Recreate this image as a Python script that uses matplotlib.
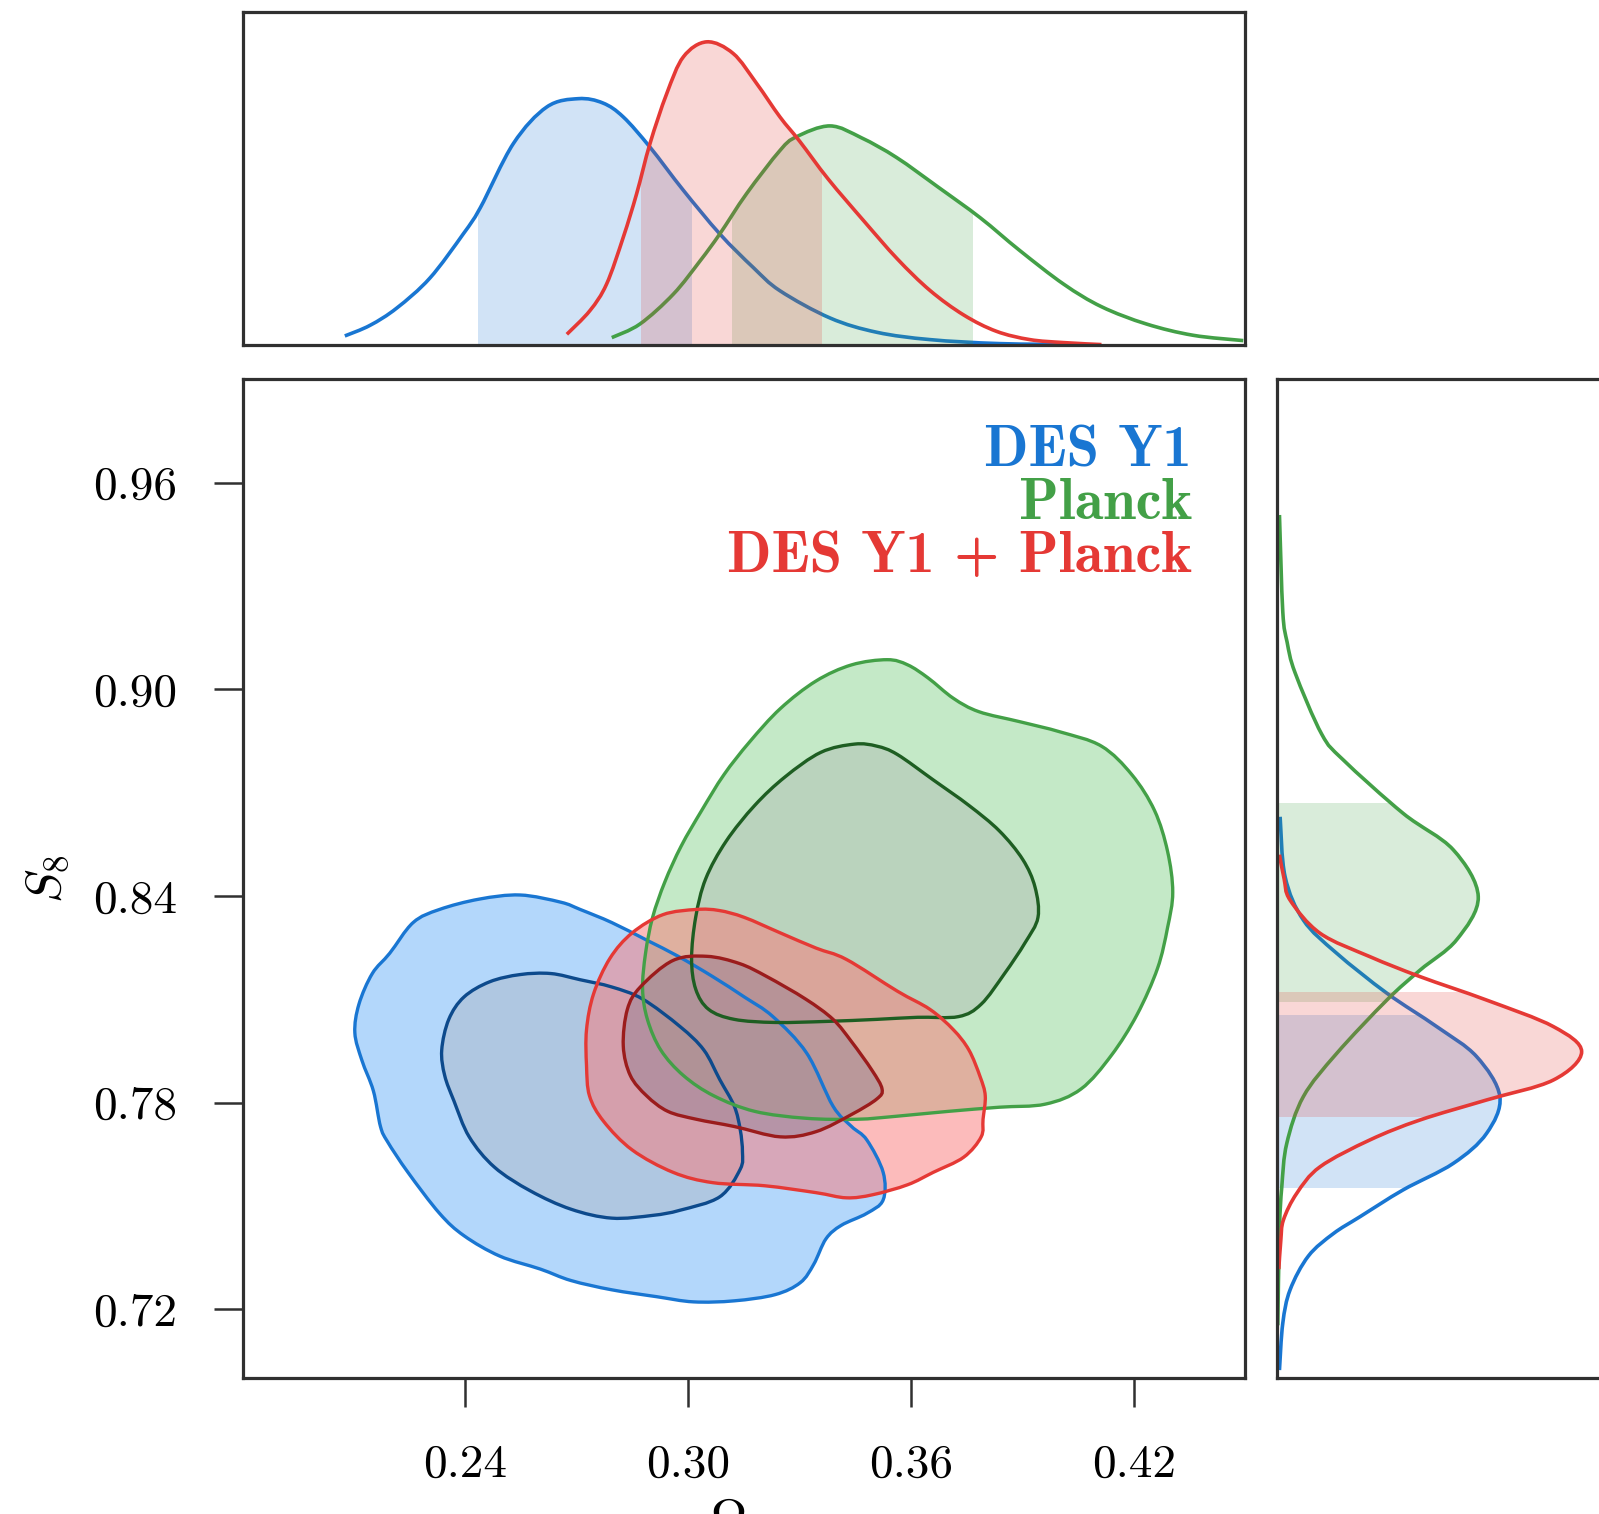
import numpy as np
import matplotlib
matplotlib.use("Agg")
import matplotlib.pyplot as plt
from matplotlib.path import Path
from matplotlib.patches import PathPatch

# ------------------------------------------------------------------ data
om_lim = (0.18, 0.45)
s8_lim = (0.70, 0.99)
x_ticks = [0.24, 0.30, 0.36, 0.42]
x_tick_labels = ["0.24", "0.30", "0.36", "0.42"]
y_ticks = [0.72, 0.78, 0.84, 0.90, 0.96]
y_tick_labels = ["0.72", "0.78", "0.84", "0.90", "0.96"]
series_names = ["DES Y1", "Planck", "DES Y1 + Planck"]

# 1D marginal of Omega_m (relative density)
des_om = [0.2075, 0.2143, 0.2215, 0.2304, 0.2394, 0.2440, 0.2529, 0.2619, 0.2704, 0.2770,
          0.2825, 0.2897, 0.2987, 0.3085, 0.3175, 0.3247, 0.3382, 0.3508, 0.3651, 0.3838,
          0.4058]
des_om_pdf = [0.026, 0.058, 0.110, 0.200, 0.333, 0.412, 0.605, 0.715, 0.740, 0.727,
              0.685, 0.594, 0.464, 0.333, 0.232, 0.162, 0.080, 0.037, 0.015, 0.003,
              0.0]
planck_om = [0.2794, 0.2870, 0.2960, 0.3032, 0.3085, 0.3157, 0.3247, 0.3291, 0.3382, 0.3467,
             0.3561, 0.3673, 0.3786, 0.3893, 0.4011, 0.4113, 0.4234, 0.4360, 0.4495]
planck_om_pdf = [0.021, 0.062, 0.152, 0.252, 0.333, 0.454, 0.584, 0.625, 0.658, 0.622,
                 0.563, 0.474, 0.382, 0.283, 0.182, 0.114, 0.062, 0.028, 0.012]
comb_om = [0.2673, 0.2735, 0.2780, 0.2825, 0.2861, 0.2897, 0.2942, 0.2987, 0.3050, 0.3121,
           0.3184, 0.3247, 0.3300, 0.3377, 0.3473, 0.3563, 0.3651, 0.3742, 0.3830, 0.3920,
           0.4011, 0.4113]
comb_om_pdf = [0.031, 0.102, 0.182, 0.323, 0.454, 0.605, 0.755, 0.866, 0.911, 0.876,
               0.786, 0.685, 0.612, 0.498, 0.372, 0.258, 0.163, 0.089, 0.040, 0.015,
               0.006, 0.0]
# 68% intervals of Omega_m
des_om_band = (0.2434, 0.3009)
planck_om_band = (0.3117, 0.3767)
comb_om_band = (0.2874, 0.3360)

# 1D marginal of S8 (relative density)
des_s8 = [0.8630, 0.8456, 0.8330, 0.8234, 0.8118, 0.8021, 0.7934, 0.7818, 0.7711, 0.7624,
          0.7547, 0.7469, 0.7420, 0.7355, 0.7257, 0.7160, 0.7024]
des_s8_pdf = [0.010, 0.025, 0.080, 0.180, 0.331, 0.481, 0.601, 0.671, 0.631, 0.531,
              0.380, 0.250, 0.170, 0.095, 0.040, 0.018, 0.008]
planck_s8 = [0.9506, 0.9225, 0.9137, 0.9048, 0.8870, 0.8795, 0.8640, 0.8534, 0.8398, 0.8273,
             0.8185, 0.8098, 0.7943, 0.7818, 0.7682, 0.7556, 0.7432, 0.7154]
planck_s8_pdf = [0.008, 0.018, 0.031, 0.055, 0.135, 0.200, 0.380, 0.531, 0.606, 0.541,
                 0.431, 0.331, 0.180, 0.080, 0.030, 0.015, 0.008, 0.003]
comb_s8 = [0.8520, 0.8450, 0.8388, 0.8292, 0.8224, 0.8166, 0.8098, 0.8021, 0.7948, 0.7866,
           0.7808, 0.7750, 0.7692, 0.7614, 0.7537, 0.7460, 0.7400, 0.7317]
comb_s8_pdf = [0.008, 0.022, 0.040, 0.130, 0.280, 0.431, 0.631, 0.832, 0.917, 0.832,
               0.631, 0.431, 0.280, 0.130, 0.060, 0.020, 0.012, 0.006]
# 68% intervals of S8
des_s8_band = (0.7552, 0.8055)
planck_s8_band = (0.8093, 0.8669)
comb_s8_band = (0.7760, 0.8122)

# 2D contours (Omega_m, S8): outer = 95%, inner = 68%
des_outer_om = [0.2102, 0.2113, 0.2149, 0.2196, 0.2259, 0.2330, 0.2437, 0.2547, 0.2657, 0.2709,
                0.2794, 0.2888, 0.2973, 0.3066, 0.3151, 0.3228, 0.3319, 0.3390, 0.3440, 0.3481,
                0.3525, 0.3525, 0.3481, 0.3412, 0.3371, 0.3338, 0.3302, 0.3234, 0.3124, 0.3014,
                0.2915, 0.2794, 0.2684, 0.2602, 0.2492, 0.2396, 0.2330, 0.2245, 0.2190, 0.2171,
                0.2152, 0.2121]
des_outer_s8 = [0.8003, 0.8086, 0.8175, 0.8234, 0.8323, 0.8361, 0.8391, 0.8403, 0.8382, 0.8361,
                0.8323, 0.8272, 0.8225, 0.8166, 0.8107, 0.8050, 0.7944, 0.7790, 0.7731, 0.7692,
                0.7598, 0.7518, 0.7479, 0.7444, 0.7405, 0.7331, 0.7278, 0.7243, 0.7225, 0.7222,
                0.7237, 0.7257, 0.7284, 0.7317, 0.7355, 0.7414, 0.7479, 0.7598, 0.7687, 0.7731,
                0.7834, 0.7923]
des_inner_om = [0.2336, 0.2355, 0.2396, 0.2465, 0.2547, 0.2630, 0.2709, 0.2794, 0.2877, 0.2978,
                0.3042, 0.3085, 0.3124, 0.3140, 0.3146, 0.3140, 0.3085, 0.2978, 0.2904, 0.2794,
                0.2684, 0.2575, 0.2478, 0.2410, 0.2369, 0.2344]
des_inner_s8 = [0.7953, 0.8042, 0.8107, 0.8151, 0.8172, 0.8175, 0.8157, 0.8136, 0.8101, 0.8021,
                0.7953, 0.7867, 0.7790, 0.7722, 0.7657, 0.7607, 0.7527, 0.7488, 0.7473, 0.7465,
                0.7491, 0.7544, 0.7613, 0.7701, 0.7805, 0.7879]
planck_outer_om = [0.3536, 0.3440, 0.3344, 0.3248, 0.3165, 0.3096, 0.3036, 0.2981, 0.2937, 0.2904,
                   0.2885, 0.2877, 0.2890, 0.2926, 0.2987, 0.3069, 0.3179, 0.3316, 0.3454, 0.3563,
                   0.3701, 0.3838, 0.3962, 0.4058, 0.4140, 0.4209, 0.4264, 0.4291, 0.4305, 0.4291,
                   0.4256, 0.4195, 0.4113, 0.4003, 0.3893, 0.3783, 0.3714, 0.3646, 0.3591]
planck_outer_s8 = [0.9086, 0.9071, 0.9024, 0.8944, 0.8847, 0.8752, 0.8648, 0.8545, 0.8441, 0.8338,
                   0.8234, 0.8130, 0.8042, 0.7953, 0.7879, 0.7820, 0.7775, 0.7755, 0.7752, 0.7761,
                   0.7775, 0.7787, 0.7796, 0.7840, 0.7938, 0.8056, 0.8190, 0.8308, 0.8411, 0.8530,
                   0.8648, 0.8752, 0.8835, 0.8876, 0.8906, 0.8935, 0.8974, 0.9033, 0.9071]
planck_inner_om = [0.3448, 0.3357, 0.3261, 0.3179, 0.3102, 0.3047, 0.3020, 0.3009, 0.3020, 0.3055,
                   0.3124, 0.3234, 0.3371, 0.3508, 0.3618, 0.3728, 0.3789, 0.3852, 0.3907, 0.3942,
                   0.3934, 0.3901, 0.3838, 0.3756, 0.3660, 0.3563, 0.3508]
planck_inner_s8 = [0.8841, 0.8817, 0.8746, 0.8663, 0.8559, 0.8450, 0.8338, 0.8219, 0.8130, 0.8071,
                   0.8042, 0.8033, 0.8036, 0.8042, 0.8048, 0.8050, 0.8086, 0.8175, 0.8264, 0.8338,
                   0.8426, 0.8506, 0.8589, 0.8663, 0.8737, 0.8811, 0.8835]
comb_outer_om = [0.3022, 0.2932, 0.2849, 0.2789, 0.2745, 0.2726, 0.2726, 0.2734, 0.2772, 0.2849,
                 0.2959, 0.3066, 0.3206, 0.3344, 0.3426, 0.3497, 0.3591, 0.3660, 0.3742, 0.3789,
                 0.3794, 0.3800, 0.3786, 0.3756, 0.3714, 0.3651, 0.3563, 0.3426, 0.3344, 0.3248,
                 0.3151, 0.3083]
comb_outer_s8 = [0.8361, 0.8346, 0.8293, 0.8219, 0.8116, 0.8012, 0.7908, 0.7820, 0.7746, 0.7663,
                 0.7598, 0.7568, 0.7559, 0.7539, 0.7524, 0.7533, 0.7562, 0.7598, 0.7642, 0.7701,
                 0.7752, 0.7820, 0.7876, 0.7953, 0.8012, 0.8071, 0.8124, 0.8216, 0.8249, 0.8293,
                 0.8338, 0.8358]
comb_inner_om = [0.3050, 0.2959, 0.2871, 0.2836, 0.2825, 0.2844, 0.2888, 0.2945, 0.3022, 0.3124,
                 0.3248, 0.3344, 0.3440, 0.3508, 0.3522, 0.3495, 0.3440, 0.3390, 0.3316, 0.3212,
                 0.3138]
comb_inner_s8 = [0.8225, 0.8213, 0.8136, 0.8071, 0.7965, 0.7879, 0.7820, 0.7775, 0.7752, 0.7731,
                 0.7701, 0.7716, 0.7766, 0.7811, 0.7840, 0.7894, 0.7977, 0.8042, 0.8101, 0.8166,
                 0.8204]

# ------------------------------------------------------------------ style
BLUE, GREEN, RED = "#1976D2", "#43A047", "#E53935"
BLUE_D, GREEN_D, RED_D = "#0D4A8C", "#1E5E22", "#9B1C1C"
FILL = {
    "des": ("#69B1F9", "#ACB8C8"),
    "planck": ("#8BD591", "#B1BEB4"),
    "comb": ("#FB7979", "#968296"),
}
SPINE = "#303030"

plt.rcParams["mathtext.fontset"] = "cm"
plt.rcParams["axes.unicode_minus"] = False


def smooth_path(x, y, closed=False, tail=None):
    """Smooth curve through the given points (Catmull-Rom drawn as cubic Bezier)."""
    P = np.column_stack([np.asarray(x, float), np.asarray(y, float)])
    if closed:
        pts = np.vstack([P[-1], P, P[0], P[1]])
    else:
        pts = np.vstack([P[0], P, P[-1]])
    verts = [pts[1]]
    codes = [Path.MOVETO]
    for i in range(1, len(pts) - 2):
        p0, p1, p2, p3 = pts[i - 1], pts[i], pts[i + 1], pts[i + 2]
        verts += [p1 + (p2 - p0) / 6.0, p2 - (p3 - p1) / 6.0, p2]
        codes += [Path.CURVE4] * 3
    if tail is not None:
        for v in tail:
            verts.append(v)
            codes.append(Path.LINETO)
        closed = True
    if closed:
        verts.append(verts[0])
        codes.append(Path.CLOSEPOLY)
    return Path(np.array(verts), codes)


fig = plt.figure(figsize=(15.99, 15.14), dpi=100)
ax = fig.add_axes([0.1518, 0.0896, 0.6269, 0.6599])
ax_top = fig.add_axes([0.1518, 0.7724, 0.6269, 0.2195])
ax_r = fig.add_axes([0.7985, 0.0896, 0.2079, 0.6599])

for a in (ax, ax_top, ax_r):
    for s in a.spines.values():
        s.set_linewidth(2.3)
        s.set_color(SPINE)

# ---- main 2D panel
chains = [
    ("des", des_outer_om, des_outer_s8, des_inner_om, des_inner_s8, BLUE, BLUE_D),
    ("planck", planck_outer_om, planck_outer_s8, planck_inner_om, planck_inner_s8, GREEN, GREEN_D),
    ("comb", comb_outer_om, comb_outer_s8, comb_inner_om, comb_inner_s8, RED, RED_D),
]
for key, xo, yo, xi, yi, c, cd in chains:
    ax.add_patch(PathPatch(smooth_path(xo, yo, closed=True), facecolor=FILL[key][0],
                           alpha=0.5, lw=0, zorder=1))
    ax.add_patch(PathPatch(smooth_path(xi, yi, closed=True), facecolor=FILL[key][1],
                           alpha=0.5, lw=0, zorder=1))
for key, xo, yo, xi, yi, c, cd in chains:
    ax.add_patch(PathPatch(smooth_path(xo, yo, closed=True), fill=False, edgecolor=c,
                           lw=2.4, zorder=3))
    ax.add_patch(PathPatch(smooth_path(xi, yi, closed=True), fill=False, edgecolor=cd,
                           lw=2.4, zorder=3))

ax.set_xlim(*om_lim)
ax.set_ylim(*s8_lim)
ax.set_xticks(x_ticks)
ax.set_xticklabels(x_tick_labels, fontfamily="cmr10", fontsize=34)
ax.set_yticks(y_ticks)
ax.set_yticklabels(y_tick_labels, fontfamily="cmr10", fontsize=34)
ax.tick_params(axis="both", direction="out", length=21, width=1.8, color=SPINE, pad=26)
ax.tick_params(top=False, right=False)

ax.set_xlabel(r"$\Omega_{\rm m}$", fontsize=36)
ax.xaxis.set_label_coords(0.5, -0.118)
ax.set_ylabel(r"$S_8$", fontsize=36)
ax.yaxis.set_label_coords(-0.171, 0.5)

legend_colors = [BLUE, GREEN, RED]
for i, (name, col) in enumerate(zip(series_names, legend_colors)):
    ax.text(0.947, 0.913 - i * 0.053, name, transform=ax.transAxes, ha="right",
            va="baseline", color=col, fontsize=42, fontfamily="cmb10")


# ---- top marginal
def top_marg(xs, ys, band, col):
    area = PathPatch(smooth_path(xs, ys, tail=[(xs[-1], 0.0), (xs[0], 0.0)]),
                     facecolor="none", edgecolor="none")
    ax_top.add_patch(area)
    span = ax_top.axvspan(band[0], band[1], color=col, alpha=0.2, lw=0)
    span.set_clip_path(area)
    ax_top.add_patch(PathPatch(smooth_path(xs, ys), fill=False, edgecolor=col, lw=2.6))


top_marg(des_om, des_om_pdf, des_om_band, BLUE)
top_marg(planck_om, planck_om_pdf, planck_om_band, GREEN)
top_marg(comb_om, comb_om_pdf, comb_om_band, RED)
ax_top.set_xlim(*om_lim)
ax_top.set_ylim(0, 1)
ax_top.set_xticks([])
ax_top.set_yticks([])


# ---- right marginal
def right_marg(ys, xs, band, col):
    area = PathPatch(smooth_path(xs, ys, tail=[(0.0, ys[-1]), (0.0, ys[0])]),
                     facecolor="none", edgecolor="none")
    ax_r.add_patch(area)
    span = ax_r.axhspan(band[0], band[1], color=col, alpha=0.2, lw=0)
    span.set_clip_path(area)
    ax_r.add_patch(PathPatch(smooth_path(xs, ys), fill=False, edgecolor=col, lw=2.6))


right_marg(des_s8, des_s8_pdf, des_s8_band, BLUE)
right_marg(planck_s8, planck_s8_pdf, planck_s8_band, GREEN)
right_marg(comb_s8, comb_s8_pdf, comb_s8_band, RED)
ax_r.set_ylim(*s8_lim)
ax_r.set_xlim(0, 1)
ax_r.set_xticks([])
ax_r.set_yticks([])

fig.savefig("out.png", dpi=100)
